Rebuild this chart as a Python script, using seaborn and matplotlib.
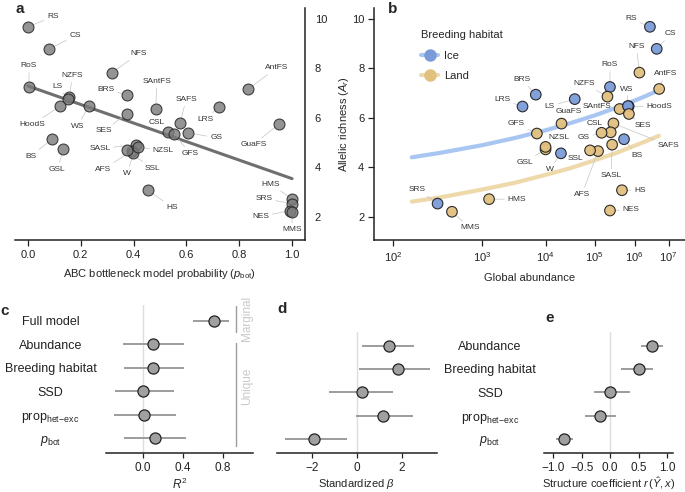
import numpy as np
import pandas as pd
import matplotlib
matplotlib.use('Agg')
import matplotlib.pyplot as plt
from matplotlib.lines import Line2D
from matplotlib.ticker import NullLocator
import seaborn as sns

# ── Data: one entry per species ──────────────────────────────────────────────
species = ['RS', 'CS', 'RoS', 'NFS', 'NZFS', 'LS', 'BRS', 'AntFS', 'SAntFS', 'SAFS',
           'LRS', 'HoodS', 'WS', 'SES', 'CSL', 'GFS', 'GS', 'GuaFS', 'BS', 'GSL',
           'SASL', 'AFS', 'W', 'NZSL', 'SSL', 'HS', 'HMS', 'SRS', 'NES', 'MMS']
allelic_richness = [9.68, 8.79, 7.25, 7.83, 6.86, 6.76, 6.94, 7.17, 6.36, 5.78,
                    6.46, 6.47, 6.48, 6.16, 5.42, 5.37, 5.40, 5.77, 5.14, 4.73,
                    4.92, 4.66, 4.57, 4.83, 4.69, 3.08, 2.72, 2.54, 2.26, 2.21]
p_bot = [0.000, 0.081, 0.004, 0.318, 0.157, 0.150, 0.375, 0.835, 0.484, 0.576,
         0.723, 0.122, 0.230, 0.374, 0.531, 0.553, 0.607, 0.952, 0.090, 0.134,
         0.409, 0.394, 0.399, 0.418, 0.375, 0.455, 1.000, 1.000, 0.994, 1.000]
abundance = [2.7e6, 4.3e6, 2.3e5, 1.35e6, 2.0e5, 3.7e4, 6.7e3, 5.1e6, 4.0e5, 2.8e5,
             4.0e3, 6.9e5, 6.6e5, 7.0e5, 2.4e5, 7.0e3, 1.45e5, 2.0e4, 5.2e5, 1.0e4,
             2.6e5, 1.2e5, 1.95e4, 1.0e4, 7.9e4, 4.6e5, 1.24e3, 280, 2.3e5, 410]
habitat = ['Ice', 'Ice', 'Ice', 'Land', 'Land', 'Ice', 'Ice', 'Land', 'Land', 'Land',
           'Ice', 'Ice', 'Ice', 'Land', 'Land', 'Land', 'Land', 'Land', 'Ice', 'Land',
           'Land', 'Land', 'Ice', 'Land', 'Land', 'Land', 'Land', 'Ice', 'Land', 'Land']

# fitted curves of panel b
curve_abundance = [150, 300, 1e3, 3e3, 1e4, 3e4, 1e5, 3e5, 1e6, 2e6, 5e6]
curve_ice = [4.41, 4.59, 4.90, 5.19, 5.50, 5.79, 6.10, 6.39, 6.70, 6.88, 7.12]
curve_land = [2.62, 2.79, 3.11, 3.38, 3.70, 3.97, 4.29, 4.56, 4.88, 5.05, 5.28]

# panels c-e
c_labels = ['Full model', 'Abundance', 'Breeding habitat', 'SSD',
            r'prop$_{\mathrm{het\!-\!exc}}$', r'$p_{\mathrm{bot}}$']
c_est = [0.71, 0.10, 0.10, 0.00, 0.01, 0.12]
c_lo = [0.50, -0.20, -0.19, -0.28, -0.29, -0.19]
c_hi = [0.86, 0.41, 0.41, 0.31, 0.33, 0.43]

d_est = [1.44, 1.82, 0.22, 1.19, -1.88]
d_lo = [0.22, 0.12, -1.23, -0.03, -3.21]
d_hi = [2.55, 3.26, 1.63, 2.49, -0.44]

e_labels = c_labels[1:]
e_est = [0.73, 0.51, 0.00, -0.175, -0.82]
e_lo = [0.54, 0.19, -0.28, -0.45, -0.95]
e_hi = [0.92, 0.76, 0.35, 0.10, -0.65]

# label offsets (pixels, x right / y down)
offs_a = {'RS': (25, -10), 'CS': (26, -13), 'RoS': (0, -21), 'NFS': (27, -19),
          'NZFS': (3, -21), 'LS': (-10, -13), 'BRS': (-21, -5), 'AntFS': (28, -21),
          'SAntFS': (1, -28), 'SAFS': (6, -24), 'LRS': (-13, 13), 'HoodS': (-28, 18),
          'WS': (-11, 20), 'SES': (-23, 17), 'CSL': (-12, -10), 'GFS': (16, 20),
          'GS': (28, 5), 'GuaFS': (-26, 21), 'BS': (-21, 17), 'GSL': (-6, 20),
          'SASL': (-36, 4), 'AFS': (-29, 18), 'W': (-6, 20), 'NZSL': (25, 4),
          'SSL': (25, 18), 'HS': (24, 17), 'HMS': (-21, -15), 'SRS': (-28, -5),
          'NES': (-30, 6), 'MMS': (0, 18)}
offs_b = {'RS': (-19, -8), 'CS': (14, -15), 'NFS': (-3, -26), 'AntFS': (6, -15),
          'RoS': (0, -22), 'BRS': (-14, -15), 'NZFS': (-23, -13), 'LS': (-25, 7),
          'LRS': (-20, -7), 'WS': (-1, -17), 'HoodS': (31, 0), 'SAntFS': (-23, -3),
          'SES': (14, 12), 'GuaFS': (7, -12), 'GFS': (-21, -10), 'CSL': (-16, -9),
          'SAFS': (55, 22), 'GS': (-18, 5), 'NZSL': (13, -9), 'GSL': (-21, 13),
          'W': (-11, 16), 'SSL': (-15, 8), 'AFS': (-16, 43), 'SASL': (-1, 31),
          'BS': (13, 16), 'HS': (18, 0), 'NES': (21, -1), 'HMS': (28, 0),
          'SRS': (-20, -14), 'MMS': (18, 16)}

seals = pd.DataFrame({'species': species, 'allelic_richness': allelic_richness,
                      'p_bot': p_bot, 'abundance': abundance, 'habitat': habitat})
curves = pd.DataFrame({'abundance': curve_abundance * 2,
                       'allelic_richness': curve_ice + curve_land,
                       'habitat': ['Ice'] * len(curve_ice) + ['Land'] * len(curve_land)})

point_pal = {'Ice': '#7b9bd8', 'Land': '#e2c07e'}
curve_pal = {'Ice': '#a9c6f3', 'Land': '#eed9aa'}

# ── Style ────────────────────────────────────────────────────────────────────
sns.set_theme(style='ticks')
plt.rcParams['font.family'] = ['Liberation Sans', 'DejaVu Sans']
plt.rcParams['mathtext.fontset'] = 'custom'
plt.rcParams['mathtext.rm'] = 'Liberation Sans'
plt.rcParams['mathtext.it'] = 'Liberation Sans:italic'
plt.rcParams['mathtext.bf'] = 'Liberation Sans:bold'
plt.rcParams['axes.linewidth'] = 1.1
plt.rcParams['axes.edgecolor'] = '#222222'
plt.rcParams['xtick.color'] = '#222222'
plt.rcParams['ytick.color'] = '#222222'

W, H = 685, 492
fig = plt.figure(figsize=(W / 100, H / 100), dpi=100)


def px_axes(x0, y0, x1, y1):
    return fig.add_axes([x0 / W, 1 - y1 / H, (x1 - x0) / W, (y1 - y0) / H])


def label_points(ax, df, xcol, offs):
    for _, r in df.iterrows():
        dx, dy = offs[r['species']]
        ax.annotate(r['species'], (r[xcol], r['allelic_richness']),
                    xytext=(dx, -dy), textcoords='offset pixels',
                    ha='center', va='center', fontsize=6, color='#333333',
                    arrowprops=dict(arrowstyle='-', color='#c4c4c4', lw=0.5,
                                    shrinkA=0, shrinkB=3.5), zorder=2)


# ── a: allelic richness vs p_bot ─────────────────────────────────────────────
ax_a = px_axes(15, 8, 305, 240)
sns.regplot(data=seals, x='p_bot', y='allelic_richness', scatter=False, ci=None,
            color='#6f6f6f', line_kws={'lw': 2.2, 'zorder': 1}, ax=ax_a)
sns.scatterplot(data=seals, x='p_bot', y='allelic_richness', color='#7a7a7a',
                alpha=0.8, s=62, edgecolor='#1e1e1e', linewidth=0.8, ax=ax_a, zorder=3)
label_points(ax_a, seals, 'p_bot', offs_a)
ax_a.set_xlim(-0.049, 1.049)
ax_a.set_ylim(1.07, 10.44)
ax_a.set_xticks([0, 0.2, 0.4, 0.6, 0.8, 1.0])
ax_a.set_xticklabels(['0.0', '0.2', '0.4', '0.6', '0.8', '1.0'])
ax_a.set_yticks([2, 4, 6, 8, 10])
ax_a.yaxis.tick_right()
ax_a.yaxis.set_label_position('right')
sns.despine(ax=ax_a, left=True, right=False, top=True)
ax_a.tick_params(labelsize=8, length=4, width=0.9, pad=3)
ax_a.set_xlabel(r'ABC bottleneck model probability ($p_{\mathrm{bot}}$)', fontsize=8, labelpad=5)
ax_a.set_ylabel(r'Allelic richness ($A_r$)', fontsize=8, labelpad=7)

# ── b: allelic richness vs global abundance ──────────────────────────────────
ax_b = px_axes(374, 8, 685, 240)
sns.lineplot(data=curves, x='abundance', y='allelic_richness', hue='habitat',
             palette=curve_pal, lw=3, legend=False, ax=ax_b, zorder=1)
sns.scatterplot(data=seals, x='abundance', y='allelic_richness', hue='habitat',
                palette=point_pal, s=58, edgecolor='#222222', linewidth=0.8,
                alpha=0.95, legend=False, ax=ax_b, zorder=3)
label_points(ax_b, seals, 'abundance', offs_b)


def to_axis(x):
    return np.log(np.log10(np.maximum(x, 1.5)))


def from_axis(y):
    return 10 ** np.exp(y)


ax_b.set_xscale('function', functions=(to_axis, from_axis))
ax_b.set_xlim(68, 3.5e7)
ax_b.set_ylim(1.07, 10.44)
ax_b.set_xticks([1e2, 1e3, 1e4, 1e5, 1e6, 1e7])
ax_b.set_xticklabels([r'$10^{%d}$' % k for k in range(2, 8)])
ax_b.xaxis.set_minor_locator(NullLocator())
ax_b.set_yticks([2, 4, 6, 8, 10])
sns.despine(ax=ax_b)
ax_b.tick_params(labelsize=8, length=4, width=0.9, pad=3)
ax_b.set_xlabel('Global abundance', fontsize=8, labelpad=7)
ax_b.set_ylabel('')
handles = [Line2D([0], [0], color=curve_pal[h], lw=3, marker='o', markersize=8,
                  markerfacecolor=point_pal[h], markeredgecolor=point_pal[h])
           for h in ['Ice', 'Land']]
leg = ax_b.legend(handles, ['Ice', 'Land'], title='Breeding habitat', loc='upper left',
                  bbox_to_anchor=(0.152, 0.905), frameon=False, fontsize=8,
                  title_fontsize=8, handlelength=1.5, handletextpad=0.55,
                  labelspacing=0.95, borderpad=0, borderaxespad=0, alignment='left')


# ── c-e: coefficient plots ───────────────────────────────────────────────────
def coef_panel(ax, est, lo, hi):
    rows = np.arange(len(est))
    ax.axvline(0, color='#dddddd', lw=1, zorder=0)
    ax.hlines(rows, lo, hi, color='#9c9c9c', lw=1.4, zorder=1)
    sns.scatterplot(x=est, y=rows, color='#a0a0a0', s=64, edgecolor='#222222',
                    linewidth=0.9, ax=ax, zorder=3)
    sns.despine(ax=ax, left=True)
    ax.tick_params(axis='x', labelsize=8.5, length=3.5, width=0.9, pad=3)
    ax.tick_params(axis='y', length=0)
    return rows


ax_c = px_axes(106, 305, 253, 453)
rows_c = coef_panel(ax_c, c_est, c_lo, c_hi)
ax_c.set_ylim(5.63, -0.68)
ax_c.set_xlim(-0.367, 1.103)
ax_c.set_xticks([0, 0.4, 0.8])
ax_c.set_xticklabels(['0.0', '0.4', '0.8'])
ax_c.set_yticks(rows_c)
ax_c.set_yticklabels(c_labels, fontsize=9, ha='center')
ax_c.tick_params(axis='y', pad=40)
ax_c.set_xlabel(r'$R^2$', fontsize=8.5, labelpad=2)
bt = ax_c.get_yaxis_transform()
ax_c.plot([0.886, 0.886], [-0.64, 0.45], color='#9c9c9c', lw=1, transform=bt, clip_on=False)
ax_c.plot([0.886, 0.886], [0.92, 5.32], color='#9c9c9c', lw=1, transform=bt, clip_on=False)
ax_c.text(0.957, -0.1, 'Marginal', rotation=90, ha='center', va='center', fontsize=8.5,
          color='#c9c9c9', transform=bt, clip_on=False)
ax_c.text(0.957, 2.8, 'Unique', rotation=90, ha='center', va='center', fontsize=8.5,
          color='#c9c9c9', transform=bt, clip_on=False)

ax_d = px_axes(276.7, 332, 436.7, 453)
coef_panel(ax_d, d_est, d_lo, d_hi)
ax_d.set_ylim(4.6, -0.58)
ax_d.set_xlim(-3.56, 3.56)
ax_d.set_xticks([-2, 0, 2])
ax_d.set_yticks([])
ax_d.set_xlabel(r'Standardized $\beta$', fontsize=8, labelpad=2)

ax_e = px_axes(544.3, 332, 673.3, 453)
rows_e = coef_panel(ax_e, e_est, e_lo, e_hi)
ax_e.set_ylim(4.6, -0.58)
ax_e.set_xlim(-1.16, 1.11)
ax_e.set_xticks([-1, -0.5, 0, 0.5, 1])
ax_e.set_xticklabels(['\u22121.0', '\u22120.5', '0.0', '0.5', '1.0'])
ax_e.set_yticks(rows_e)
ax_e.set_yticklabels(e_labels, fontsize=9, ha='center')
ax_e.tick_params(axis='y', pad=39)
ax_e.set_xlabel(r'Structure coefficient $r\,(\hat{Y},x)$', fontsize=8, labelpad=1)

# panel letters
for letter, (x, y) in {'a': (15, 2), 'b': (388, 2), 'c': (0, 304), 'd': (277, 302),
                       'e': (545, 311)}.items():
    fig.text(x / W, 1 - y / H, letter, fontsize=11, fontweight='bold', va='top', ha='left')

fig.savefig('out.png', dpi=100)
